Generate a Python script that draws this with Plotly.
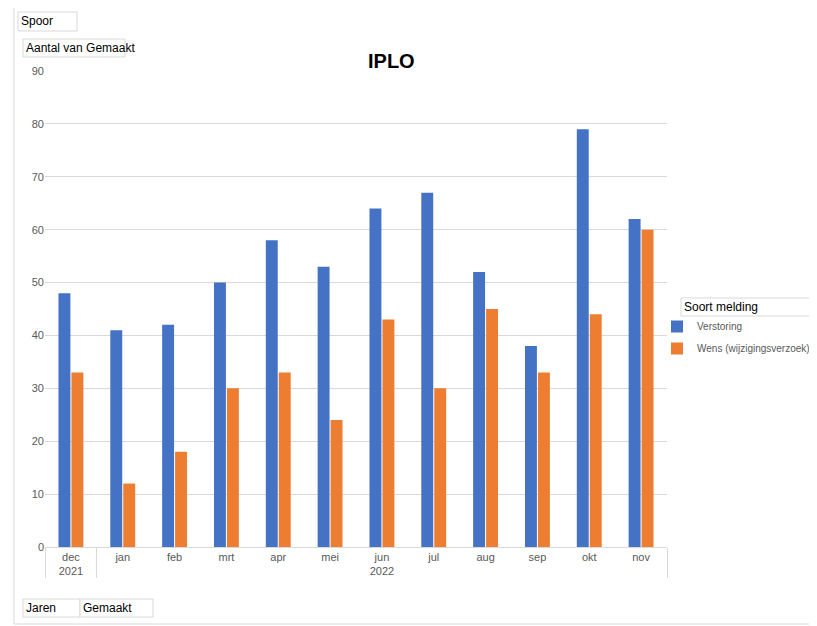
import plotly.graph_objects as go

years = ["2021"] + ["2022"] * 11
months = ["dec", "jan", "feb", "mrt", "apr", "mei", "jun", "jul", "aug", "sep", "okt", "nov"]
verstoring = [48, 41, 42, 50, 58, 53, 64, 67, 52, 38, 79, 62]
wens = [33, 12, 18, 30, 33, 24, 43, 30, 45, 33, 44, 60]
series_names = ["Verstoring", "Wens (wijzigingsverzoek)"]
colors = ["#4472C4", "#ED7D31"]

OFF = 8  # page body margin
W, H = 817 - OFF, 626 - OFF
# target pixel positions in the screenshot
L, R, T, B = 45, 667, 71, 547

def px(x):
    return (x - L) / (R - L)

def py(y):
    return (B - y) / (B - T)

FONT = "Liberation Sans"
GREY = "#595959"

fig = go.Figure()
for i, (name, vals, c) in enumerate(zip(series_names, [verstoring, wens], colors)):
    fig.add_trace(go.Bar(x=[years, months], y=vals, name=name, marker_color=c,
                         marker_line_width=0, legendgroup=f"g{i}"))

shapes = [dict(type="rect", xref="paper", yref="paper", x0=px(14), x1=px(840),
               y0=py(624), y1=py(4), line=dict(color="#d9d9d9", width=1))]
annotations = [dict(text="<b>IPLO</b>", xref="paper", yref="paper", x=px(391), y=py(48),
                    showarrow=False, font=dict(size=20, color="black", family=FONT))]

def button(text, x0, x1, y0, y1):
    shapes.append(dict(type="rect", xref="paper", yref="paper", x0=px(x0), x1=px(x1),
                       y0=py(y1), y1=py(y0), line=dict(color="#d9d9d9", width=1),
                       fillcolor="white"))
    annotations.append(dict(text=text, xref="paper", yref="paper", x=px(x0 + 1),
                            y=py((y0 + y1) / 2), xanchor="left", yanchor="middle",
                            showarrow=False, font=dict(size=12, color="black", family=FONT)))

button("Spoor", 18, 77, 12, 31)
button("Aantal van Gemaakt", 23, 125, 39, 57)
button("Jaren", 23, 80, 599, 617)
button("Gemaakt", 80, 153, 599, 617)
button("Soort melding", 681, 830, 298, 316)

fig.update_layout(
    width=W, height=H,
    margin=dict(l=L - OFF, r=817 - R, t=T - OFF, b=626 - B, autoexpand=False),
    plot_bgcolor="white", paper_bgcolor="white",
    barmode="group", bargap=0.5, bargroupgap=0.08,
    showlegend=True,
    legend=dict(x=px(657), y=py(312), xanchor="left", yanchor="top",
                font=dict(size=10, color=GREY, family=FONT), traceorder="grouped",
                itemwidth=30, tracegroupgap=3, bgcolor="rgba(0,0,0,0)"),
    xaxis=dict(showgrid=False, showline=True, linecolor="#d9d9d9", ticks="",
               tickfont=dict(size=11, color=GREY, family=FONT),
               dividercolor="#d9d9d9", dividerwidth=1, showdividers=True),
    yaxis=dict(range=[0, 90], dtick=10, gridcolor="#d9d9d9", showline=False,
               zeroline=False, ticks="", automargin=False,
               tickfont=dict(size=11, color=GREY, family=FONT)),
    shapes=shapes, annotations=annotations,
)

fig.write_html("out.html")
